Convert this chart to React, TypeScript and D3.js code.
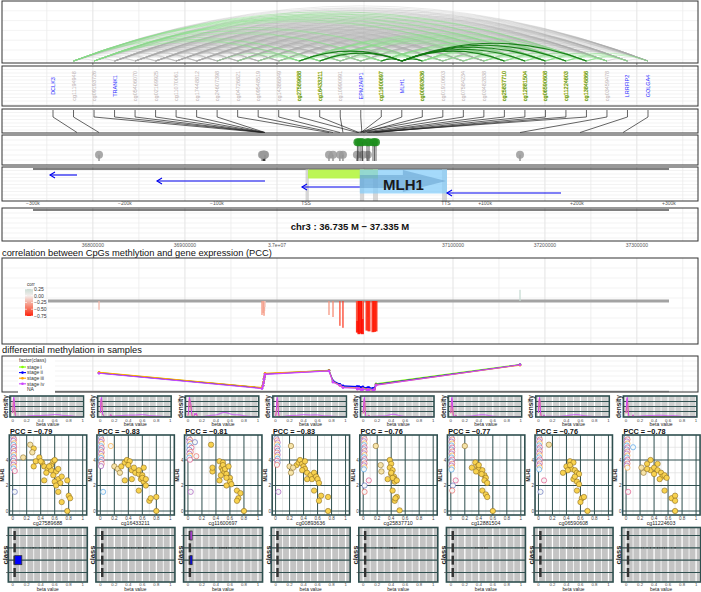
import React from 'react';
import * as d3 from 'd3';

const FONT = '"Liberation Sans", Arial, Helvetica, sans-serif';
const TEAL = '#2f4f4f';

// ---------------- label track (left to right) ----------------
const nodeLabels = ['DCLK3', 'cg11194948', 'cg09193726', 'TRANK1', 'cg05406070', 'cg02169925', 'cg11070061', 'cg17448812', 'cg24607398', 'cg04726821', 'cg09548519', 'cg14386849', 'cg27589688', 'cg16433211', 'cg10990991', 'EPM2AIP1', 'cg11600697', 'MLH1', 'cg00893636', 'cg01910603', 'cg07584234', 'cg03482838', 'cg25837710', 'cg12881504', 'cg06590608', 'cg11224603', 'cg13846866', 'cg03459478', 'LRRFIP2', 'GOLGA4'];

const geneLabelNames = ['DCLK3', 'TRANK1', 'EPM2AIP1', 'MLH1', 'LRRFIP2', 'GOLGA4'];
const geneLabelAnchor = [36782800, 36987000, 37049450, 37049000, 37238200, 37285000];

// ---------------- CpG probes ----------------
const cpgNames = ['cg11194948', 'cg09193726', 'cg05406070', 'cg02169925', 'cg11070061', 'cg17448812', 'cg24607398', 'cg04726821', 'cg09548519', 'cg14386849', 'cg27589688', 'cg16433211', 'cg10990991', 'cg11600697', 'cg00893636', 'cg01910603', 'cg07584234', 'cg03482838', 'cg25837710', 'cg12881504', 'cg06590608', 'cg11224603', 'cg13846866', 'cg03459478'];
const cpgPos = [36806700, 36983700, 36984800, 36985400, 36985900, 36986400, 36987000, 37040850, 37041900, 37043700, 37048280, 37048670, 37044500, 37049200, 37049590, 37048150, 37049700, 37052000, 37052580, 37055420, 37056190, 37054640, 37051550, 37172900];
const cpgPCC = [-0.22, -0.35, -0.3, -0.2, -0.37, -0.25, -0.15, -0.35, -0.4, -0.62, -0.79, -0.83, -0.67, -0.81, -0.83, -0.5, -0.45, -0.4, -0.76, -0.77, -0.76, -0.78, -0.74, 0.28];
const cpgSig = [0, 0, 0, 0, 0, 0, 0, 0, 0, 0, 1, 1, 0, 1, 1, 0, 0, 0, 1, 1, 1, 1, 1, 0];
const cpgLogP = [2.2, 2.2, 2.2, 2.2, 2.2, 2.2, 2.2, 2.2, 2.2, 2.2, 5.6, 5.6, 2.2, 5.6, 5.6, 2.2, 2.2, 2.2, 5.6, 5.6, 5.6, 5.6, 5.6, 2.2];

// mean beta per stage
const stageNames = ['stage i', 'stage ii', 'stage iii', 'stage iv'];
const stageColors = ['#7fff00', '#0000ff', '#ffa500', '#cc44ff'];
const betaStage1 = [0.54, 0.09, 0.16, 0.25, 0.35, 0.42, 0.51, 0.61, 0.28, 0.18, 0.09, 0.11, 0.13, 0.08, 0.06, 0.11, 0.1, 0.07, 0.07, 0.07, 0.21, 0.05, 0.06, 0.78];
const betaStage2 = [0.53, 0.09, 0.16, 0.25, 0.35, 0.42, 0.5, 0.6, 0.3, 0.2, 0.12, 0.13, 0.15, 0.11, 0.09, 0.13, 0.12, 0.1, 0.1, 0.09, 0.19, 0.08, 0.09, 0.77];
const betaStage3 = [0.55, 0.1, 0.17, 0.26, 0.36, 0.43, 0.52, 0.6, 0.27, 0.17, 0.06, 0.08, 0.11, 0.05, 0.04, 0.09, 0.07, 0.05, 0.04, 0.05, 0.18, 0.03, 0.04, 0.76];
const betaStage4 = [0.52, 0.07, 0.15, 0.24, 0.34, 0.41, 0.49, 0.59, 0.26, 0.16, 0.05, 0.07, 0.1, 0.04, 0.03, 0.08, 0.06, 0.04, 0.04, 0.04, 0.17, 0.03, 0.03, 0.77];

// ---------------- gene track ----------------
const trackGenes = ['DCLK3', 'TRANK1', 'EPM2AIP1', 'LRRFIP2'];
const trackStart = [36753460, 36869660, 37030000, 37093430];
const trackEnd = [36782800, 36986950, 37048900, 37217500];
const trackLane = [0, 1, 2, 3];
const mlh1Start = 37048900;
const mlh1End = 37093430;
const promoterStart = 37035360;
const promoterEnd = 37057220;
const bandStart = [37034300, 37048930, 37054640, 37090270];
const bandEnd = [37035600, 37050000, 37057220, 37093430];
const TSS = 37034841;
const TTS = 37092337;
const tssOffsets = [-300000, -200000, -100000, 0, 100000, 200000, 300000];
const tssOffsetLabels = ['\u2212300k', '\u2212200k', '\u2212100k', 'TSS', '+100k', '+200k', '+300k'];
const chrTicks = [36800000, 36900000, 37000000, 37100000, 37200000, 37300000];
const chrTickLabels = ['36800000', '36900000', '3.7e+07', '37100000', '37200000', '37300000'];
const gridMajor = [36800000, 36900000, 37000000, 37100000, 37200000, 37300000];
const gridMinor = [36750000, 36850000, 36950000, 37050000, 37150000, 37250000, 37350000];

// ---------------- per-probe sample panels ----------------
const panelCpgs = ['cg27589688', 'cg16433211', 'cg11600697', 'cg00893636', 'cg25837710', 'cg12881504', 'cg06590608', 'cg11224603'];
const panelPCC = ['\u22120.79', '\u22120.83', '\u22120.81', '\u22120.83', '\u22120.76', '\u22120.77', '\u22120.76', '\u22120.78'];

const scatterTumor: number[][][] = [
  [[0.25, 5.2], [0.3, 4.9], [0.28, 4.6], [0.15, 4.2], [0.38, 4.2], [0.33, 3.9], [0.42, 3.8], [0.3, 3.5], [0.45, 3.5], [0.5, 3.3], [0.55, 3.6], [0.58, 3.9], [0.6, 4.0], [0.55, 3.2], [0.48, 3.0], [0.62, 3.1], [0.58, 2.8], [0.65, 2.5], [0.6, 2.3], [0.68, 2.2], [0.45, 2.4], [0.7, 2.7], [0.62, 2.0], [0.65, 1.5], [0.78, 2.4], [0.7, 0.7], [0.8, 1.2], [0.82, 1.0], [0.78, 0.0], [0.65, 3.3], [0.52, 3.5], [0.4, 3.9]],
  [[0.2, 3.5], [0.25, 3.3], [0.3, 3.5], [0.35, 3.8], [0.38, 4.0], [0.42, 3.9], [0.28, 3.0], [0.45, 3.2], [0.5, 3.0], [0.35, 2.4], [0.55, 2.9], [0.6, 2.8], [0.62, 3.4], [0.58, 2.5], [0.62, 2.3], [0.65, 2.0], [0.55, 1.6], [0.7, 0.8], [0.72, 1.0], [0.8, 1.1], [0.8, 0.0], [0.45, 2.5], [0.6, 2.6], [0.55, 3.2], [0.65, 2.5], [0.48, 3.4], [0.4, 3.6]],
  [[0.33, 5.2], [0.35, 3.1], [0.35, 3.4], [0.45, 3.9], [0.5, 3.8], [0.48, 3.4], [0.5, 3.2], [0.52, 3.0], [0.55, 2.9], [0.45, 2.4], [0.6, 2.6], [0.6, 2.3], [0.62, 2.1], [0.55, 2.0], [0.5, 3.6], [0.53, 3.3], [0.7, 1.6], [0.75, 1.4], [0.72, 1.0], [0.7, 0.8], [0.8, 0.0], [0.58, 3.5], [0.47, 2.8], [0.55, 2.6]],
  [[0.22, 5.1], [0.2, 3.5], [0.22, 3.0], [0.3, 3.6], [0.33, 3.8], [0.35, 4.0], [0.38, 3.7], [0.4, 3.5], [0.42, 3.3], [0.45, 3.0], [0.5, 2.8], [0.52, 2.5], [0.55, 3.0], [0.58, 2.7], [0.6, 2.5], [0.62, 2.2], [0.55, 1.6], [0.65, 1.2], [0.62, 0.8], [0.75, 1.1], [0.75, 0.0], [0.45, 2.5], [0.38, 3.2], [0.25, 3.4], [0.42, 3.9]],
  [[0.18, 5.1], [0.25, 3.6], [0.26, 3.1], [0.38, 4.0], [0.4, 3.7], [0.38, 3.4], [0.42, 3.2], [0.4, 2.9], [0.44, 2.7], [0.45, 2.5], [0.45, 2.3], [0.42, 2.6], [0.48, 2.4], [0.42, 1.6], [0.48, 1.1], [0.45, 0.8], [0.52, 0.05], [0.35, 2.5], [0.4, 3.0], [0.46, 1.0]],
  [[0.2, 5.1], [0.3, 3.4], [0.35, 3.8], [0.38, 3.5], [0.4, 3.3], [0.42, 3.0], [0.45, 3.2], [0.48, 2.8], [0.5, 2.6], [0.48, 2.4], [0.52, 2.2], [0.45, 1.6], [0.5, 1.3], [0.52, 1.1], [0.6, 0.0], [0.4, 3.6], [0.44, 2.9], [0.36, 3.1]],
  [[0.15, 5.2], [0.35, 3.0], [0.4, 3.5], [0.45, 3.9], [0.5, 3.8], [0.47, 3.3], [0.52, 3.2], [0.55, 3.0], [0.58, 2.9], [0.5, 2.5], [0.55, 2.3], [0.58, 2.1], [0.55, 1.6], [0.62, 1.0], [0.65, 1.1], [0.6, 0.7], [0.7, 0.0], [0.45, 3.6], [0.52, 2.7], [0.42, 3.2]],
  [[0.22, 3.4], [0.25, 3.0], [0.3, 3.7], [0.35, 4.0], [0.35, 3.2], [0.4, 3.4], [0.45, 3.2], [0.5, 3.0], [0.52, 2.7], [0.48, 2.5], [0.55, 2.8], [0.58, 2.6], [0.55, 1.6], [0.65, 1.0], [0.7, 1.2], [0.7, 0.8], [0.7, 0.0], [0.4, 2.9], [0.3, 3.3], [0.45, 3.7]],
];
const scatterNormal: number[][][] = [
  [[0.01, 5.78], [0.02, 5.62], [0.01, 5.5], [0.02, 5.31], [0.01, 5.18], [0.02, 5.02], [0.01, 4.86], [0.02, 4.71], [0.01, 4.57], [0.02, 4.39], [0.01, 4.24], [0.02, 4.12], [0.01, 3.93], [0.02, 3.79], [0.01, 3.62], [0.02, 3.48], [0.01, 3.33], [0.03, 3.14], [0.03, 1.5]],
  [[0.01, 5.72], [0.02, 5.55], [0.01, 5.41], [0.02, 5.26], [0.01, 5.08], [0.02, 4.93], [0.01, 4.78], [0.02, 4.61], [0.01, 4.47], [0.02, 4.3], [0.01, 4.16], [0.02, 3.99], [0.01, 3.85], [0.02, 3.7], [0.01, 3.52], [0.15, 5.1], [0.04, 1.5]],
  [[0.01, 5.72], [0.03, 5.58], [0.02, 5.41], [0.04, 5.27], [0.02, 5.1], [0.05, 4.96], [0.02, 4.8], [0.04, 4.63], [0.02, 4.49], [0.03, 4.33], [0.02, 4.18], [0.03, 4.02], [0.1, 5.4], [0.12, 4.3], [0.04, 1.5]],
  [[0.01, 5.7], [0.02, 5.54], [0.03, 5.37], [0.02, 5.22], [0.03, 5.06], [0.02, 4.9], [0.03, 4.73], [0.02, 4.58], [0.03, 4.41], [0.02, 4.27], [0.03, 4.1], [0.02, 3.94], [0.03, 3.79], [0.02, 3.62], [0.04, 1.5]],
  [[0.01, 5.78], [0.02, 5.63], [0.01, 5.47], [0.02, 5.3], [0.01, 5.16], [0.02, 4.99], [0.01, 4.84], [0.02, 4.69], [0.01, 4.52], [0.02, 4.38], [0.01, 4.21], [0.02, 4.06], [0.01, 3.9], [0.02, 3.74], [0.01, 3.58], [0.02, 3.42], [0.01, 3.27], [0.08, 2.4], [0.02, 2.0], [0.02, 1.5]],
  [[0.01, 5.76], [0.02, 5.61], [0.01, 5.44], [0.02, 5.29], [0.01, 5.13], [0.02, 4.97], [0.01, 4.82], [0.02, 4.66], [0.01, 4.5], [0.02, 4.35], [0.01, 4.19], [0.02, 4.03], [0.01, 3.88], [0.02, 3.71], [0.01, 3.56], [0.02, 3.4], [0.01, 3.25], [0.07, 2.4], [0.03, 2.0], [0.02, 1.6]],
  [[0.01, 5.77], [0.02, 5.6], [0.01, 5.46], [0.02, 5.3], [0.01, 5.14], [0.02, 4.98], [0.01, 4.83], [0.02, 4.67], [0.01, 4.51], [0.02, 4.36], [0.01, 4.2], [0.02, 4.04], [0.01, 3.89], [0.02, 3.73], [0.01, 3.57], [0.02, 3.41], [0.01, 3.26], [0.08, 2.4], [0.03, 1.5]],
  [[0.01, 5.77], [0.02, 5.61], [0.01, 5.45], [0.02, 5.29], [0.01, 5.13], [0.02, 4.98], [0.01, 4.82], [0.02, 4.66], [0.01, 4.5], [0.02, 4.35], [0.01, 4.19], [0.02, 4.03], [0.01, 3.88], [0.02, 3.72], [0.01, 3.56], [0.02, 3.4], [0.1, 5.0], [0.03, 1.5]],
];

// class boxes (default dark box in every row, a few coloured ones)
const classRows = [0, 1, 2, 3];
const classBoxLo = 0.01;
const classBoxHi = 0.045;
const hlPanel = [0, 2, 2];
const hlRow = [2, 0, 2];
const hlLo = [0.03, 0.03, 0.03];
const hlHi = [0.13, 0.06, 0.06];
const hlColor = ['#0000ff', '#cc44ff', '#0000ff'];

const betaTicks = [0, 0.2, 0.4, 0.6, 0.8, 1];
const betaMinor = [0.1, 0.3, 0.5, 0.7, 0.9];
const pccLegendValues = [0.25, 0, -0.25, -0.5, -0.75];
const pccLegendLabels = ['0.25', '0.00', '\u22120.25', '\u22120.50', '\u22120.75'];

// ---------------- helpers ----------------
const gx = d3.scaleLinear()
  .domain([36735000, 37000000, 37034841, 37050000, 37092337, 37100000, 37335000])
  .range([33, 277, 306, 364, 446, 453, 669]);

const X0 = 2;
const X1 = 698;

function GenomePanel({ y0, y1, step }: { y0: number; y1: number; step: number }) {
  const hs = d3.range(y0 + step, y1 - 0.5, step);
  return (
    <g>
      <rect x={X0} y={y0} width={X1 - X0} height={y1 - y0} fill="#fff" />
      {hs.map((y, i) => <line key={'h' + i} x1={X0} x2={X1} y1={y} y2={y} stroke="#ebebeb" strokeWidth={0.6} />)}
      {gridMinor.map((g, i) => <line key={'m' + i} x1={gx(g)} x2={gx(g)} y1={y0} y2={y1} stroke="#ebebeb" strokeWidth={0.8} />)}
      {gridMajor.map((g, i) => <line key={'M' + i} x1={gx(g)} x2={gx(g)} y1={y0} y2={y1} stroke="#e6e6e6" strokeWidth={1.1} />)}
    </g>
  );
}

function Border({ y0, y1 }: { y0: number; y1: number }) {
  return <rect x={X0} y={y0} width={X1 - X0} height={y1 - y0} fill="none" stroke="#333" strokeWidth={1} />;
}

const gauss = (u: number) => Math.exp(-0.5 * u * u) / Math.sqrt(2 * Math.PI);
const evalGrid = d3.range(0, 1.0001, 0.004);
function kde(vals: number[], bw: number) {
  return evalGrid.map((x) => [x, (d3.mean(vals, (v) => gauss((x - v) / bw)) as number) / bw]);
}

const normalStrokes = ['#3949ab', '#e53935', '#8e24aa', '#fb8c00', '#1e88e5', '#d81b60'];

export default function App() {
  const nx = d3.scalePoint<string>().domain(nodeLabels).range([53, 648]);
  const kindOf = (n: string) =>
    geneLabelNames.includes(n) ? 'gene' : cpgSig[cpgNames.indexOf(n)] ? 'sig' : 'cpg';
  const anchorOf = (n: string) =>
    geneLabelNames.includes(n) ? geneLabelAnchor[geneLabelNames.indexOf(n)] : cpgPos[cpgNames.indexOf(n)];

  // ---- arcs between track nodes ----
  const arcBase = 61;
  const arcNodes = nodeLabels.slice(1);
  const arcs: { d: string; kind: string }[] = [];
  for (let i = 0; i < arcNodes.length; i++) {
    for (let j = i + 1; j < arcNodes.length; j++) {
      const a = arcNodes[i];
      const b = arcNodes[j];
      const ka = kindOf(a);
      const kb = kindOf(b);
      let kind = 'gray';
      if ((a === 'MLH1' && kb === 'sig') || (b === 'MLH1' && ka === 'sig')) kind = 'dark';
      else if (ka === 'sig' && kb === 'sig') kind = 'light';
      else if ((ka === 'sig' || kb === 'sig') && j - i <= 4) kind = 'light';
      else if (i <= 1 && kb === 'sig') kind = 'light';
      const x1 = nx(a) as number;
      const x2 = nx(b) as number;
      const h = (x2 - x1) * 0.096;
      arcs.push({ d: `M${x1},${arcBase} Q${(x1 + x2) / 2},${arcBase - 2 * h} ${x2},${arcBase}`, kind });
    }
  }
  const arcStyle: Record<string, [string, number, number]> = {
    gray: ['#a8a8a8', 0.35, 0.7],
    light: ['#86dc86', 0.6, 0.8],
    dark: ['#127a12', 0.95, 1.1],
  };

  // ---- lollipops ----
  const ly = d3.scaleLinear().domain([0, 7]).range([163, 137]);

  // ---- PCC ----
  const py = d3.scaleLinear().domain([-1.05, 1.05]).range([343, 259]);
  const pccColor = d3.scaleLinear<string>().domain([-0.8, -0.4, 0, 0.3]).range(['#ff1500', '#f58870', '#f4eeec', '#c2d9cf']);
  const legY = d3.scaleLinear().domain([0.25, -0.75]).range([289, 316]);

  // ---- differential methylation ----
  const dy = d3.scaleLinear().domain([0, 1]).range([391, 357]);
  const order = d3.range(cpgNames.length).sort((a, b) => cpgPos[a] - cpgPos[b]);
  const stageBetas = [betaStage1, betaStage2, betaStage3, betaStage4];
  const diffLine = d3.line<number>().x((i) => gx(cpgPos[i])).y(() => 0);

  // ---- columns ----
  const colX = d3.scaleLinear().domain([0, 8]).range([0, 701]);
  const sy = d3.scaleLinear().domain([0, 4]).range([511, 460]);
  const classY = d3.scalePoint<number>().domain(classRows).range([535.5, 572.5]);

  return (
    <svg width={701} height={592} style={{ position: 'absolute', left: 0, top: 0, background: '#fff' }} fontFamily={FONT}>
      {/* ============ arc panel ============ */}
      <GenomePanel y0={1} y1={63} step={9.8} />
      {['gray', 'light', 'dark'].map((k) =>
        arcs.filter((a) => a.kind === k).map((a, i) => (
          <path key={k + i} d={a.d} fill="none" stroke={arcStyle[k][0]} strokeOpacity={arcStyle[k][1]} strokeWidth={arcStyle[k][2]} />
        ))
      )}
      <Border y0={1} y1={63} />
      {gridMajor.map((g, i) => <line key={'at' + i} x1={gx(g)} x2={gx(g)} y1={63} y2={65} stroke="#333" strokeWidth={0.6} />)}

      {/* ============ labels ============ */}
      <GenomePanel y0={66} y1={106} step={3.5} />
      {nodeLabels.map((n) => {
        const k = kindOf(n);
        const fill = k === 'gene' ? '#2b2bff' : k === 'sig' ? '#2e8b2e' : '#bcb2b2';
        return (
          <text key={n} transform={`translate(${nx(n)},86) rotate(-90)`} textAnchor="middle" dominantBaseline="central"
            fontSize={5.5} fill={fill} stroke={k === 'sig' ? '#e8d43c' : 'none'} strokeWidth={0.35} paintOrder="stroke">
            {n}
          </text>
        );
      })}
      <Border y0={66} y1={106} />

      {/* ============ connectors ============ */}
      <GenomePanel y0={109} y1={133} step={3.5} />
      {nodeLabels.map((n) => {
        const x = nx(n) as number;
        return <polyline key={'c' + n} points={`${x},110 ${x},117 ${gx(anchorOf(n))},132.5`} fill="none" stroke="#222" strokeWidth={0.7} />;
      })}
      <Border y0={109} y1={133} />

      {/* ============ lollipops ============ */}
      <GenomePanel y0={135} y1={165} step={5} />
      {d3.range(cpgNames.length).sort((a, b) => cpgSig[a] - cpgSig[b]).map((i) => (
        <g key={'l' + i}>
          <line x1={gx(cpgPos[i])} x2={gx(cpgPos[i])} y1={ly(cpgLogP[i])} y2={161} stroke="#222" strokeWidth={0.7} />
          <circle cx={gx(cpgPos[i])} cy={ly(cpgLogP[i])} r={4} fill={cpgSig[i] ? '#1f8f1f' : '#9a9a9a'} fillOpacity={0.85} />
        </g>
      ))}
      <Border y0={135} y1={165} />

      {/* ============ gene track ============ */}
      <GenomePanel y0={167} y1={201} step={3.5} />
      <line x1={gx(36735000)} x2={gx(37335000)} y1={169} y2={169} stroke="#000" strokeWidth={1.2} />
      {bandStart.map((s, i) => (
        <rect key={'b' + i} x={gx(s)} y={169} width={gx(bandEnd[i]) - gx(s)} height={32} fill="#bdbdbd" fillOpacity={0.6} />
      ))}
      <rect x={gx(promoterStart)} y={169.5} width={gx(promoterEnd) - gx(promoterStart)} height={9} fill="#b5f542" fillOpacity={0.9} />
      <rect x={gx(mlh1Start)} y={169.5} width={gx(mlh1End) - gx(mlh1Start)} height={24} fill="#87cefa" fillOpacity={0.75} />
      {(() => {
        const a = gx(mlh1Start);
        const b = gx(mlh1End) - 1;
        const m = (a + b) / 2;
        return (
          <polygon points={`${a},175 ${m},175 ${m},170 ${b},181 ${m},192 ${m},188 ${a},188`} fill="#4682b4" fillOpacity={0.35} />
        );
      })()}
      <text x={(gx(mlh1Start) + gx(mlh1End)) / 2} y={190} textAnchor="middle" fontSize={15} fontWeight="bold" fill="#1a1a1a">MLH1</text>
      {trackGenes.map((g, i) => {
        const laneY = d3.scaleLinear().domain([0, 3]).range([175, 193])(trackLane[i]);
        const xs = gx(trackStart[i]);
        const xe = gx(trackEnd[i]);
        return (
          <g key={'g' + g} stroke="#0000ee" strokeWidth={1.1} fill="none">
            <line x1={xs} x2={xe} y1={laneY} y2={laneY} />
            <polyline points={`${xs + 5},${laneY - 3} ${xs},${laneY} ${xs + 5},${laneY + 3}`} />
          </g>
        );
      })}
      <Border y0={167} y1={201} />
      {tssOffsets.map((o, i) => (
        <text key={'t' + i} x={gx(TSS + o)} y={205} textAnchor="middle" fontSize={5} fill="#555">{tssOffsetLabels[i]}</text>
      ))}
      <text x={gx(TTS)} y={205} textAnchor="middle" fontSize={5} fill="#555">TTS</text>

      {/* ============ chromosome axis ============ */}
      <GenomePanel y0={208} y1={241} step={5} />
      <line x1={gx(36735000)} x2={gx(37335000)} y1={210} y2={210} stroke="#000" strokeWidth={1.2} />
      <text x={350} y={230} textAnchor="middle" fontSize={9.5} fontWeight="bold" fill="#111">chr3 : 36.735 M {'\u2212'} 37.335 M</text>
      <Border y0={208} y1={241} />
      {chrTicks.map((t, i) => (
        <text key={'ct' + i} x={gx(t)} y={247} textAnchor="middle" fontSize={5} fill="#555">{chrTickLabels[i]}</text>
      ))}

      {/* ============ PCC panel ============ */}
      <text x={2} y={256} fontSize={9.3} fill="#111">correlation between CpGs methlytion and gene expression (PCC)</text>
      <GenomePanel y0={258} y1={344} step={10} />
      <line x1={48} x2={gx(37335000)} y1={py(0)} y2={py(0)} stroke="#a3a3a3" strokeWidth={3} />
      {d3.range(cpgNames.length).map((i) => {
        const v = cpgPCC[i];
        const w = cpgSig[i] ? 3 : 1.4;
        return (
          <rect key={'p' + i} x={gx(cpgPos[i]) - w / 2} y={Math.min(py(0), py(v))} width={w} height={Math.abs(py(v) - py(0))}
            fill={pccColor(v)} fillOpacity={0.9} />
        );
      })}
      <text x={27} y={286} fontSize={4.5} fill="#333">corr</text>
      <defs>
        <linearGradient id="pccGrad" x1="0" y1="0" x2="0" y2="1">
          {pccLegendValues.map((v, i) => (
            <stop key={i} offset={`${(i / (pccLegendValues.length - 1)) * 100}%`} stopColor={pccColor(v)} />
          ))}
        </linearGradient>
      </defs>
      <rect x={25} y={legY(0.25)} width={8} height={legY(-0.75) - legY(0.25)} fill="url(#pccGrad)" />
      {pccLegendValues.map((v, i) => (
        <g key={'lg' + i}>
          <line x1={25} x2={27} y1={legY(v)} y2={legY(v)} stroke="#fff" strokeWidth={0.6} />
          <line x1={31} x2={33} y1={legY(v)} y2={legY(v)} stroke="#fff" strokeWidth={0.6} />
          <text x={34} y={legY(v) + 1.8} fontSize={5} fill="#333">{pccLegendLabels[i]}</text>
        </g>
      ))}
      <Border y0={258} y1={344} />

      {/* ============ differential methylation ============ */}
      <text x={2} y={353} fontSize={9.3} fill="#111">differential methylation in samples</text>
      <GenomePanel y0={356} y1={392} step={5} />
      <line x1={48} x2={gx(37335000)} y1={391.5} y2={391.5} stroke="#a3a3a3" strokeWidth={1.5} />
      {stageBetas.map((b, s) => (
        <g key={'st' + s}>
          <path d={diffLine.y((i) => dy(b[i]))(order) as string} fill="none" stroke={stageColors[s]} strokeWidth={1.1} />
          {order.map((i) => <circle key={i} cx={gx(cpgPos[i])} cy={dy(b[i])} r={1.3} fill={stageColors[s]} />)}
        </g>
      ))}
      <Border y0={356} y1={392} />
      <rect x={18} y={357} width={37} height={36} fill="#fff" />
      <text x={19} y={362} fontSize={5} fill="#333">factor(class)</text>
      {stageNames.map((s, i) => {
        const y = 367 + i * 5.6;
        return (
          <g key={'leg' + s}>
            <line x1={19} x2={26} y1={y} y2={y} stroke={stageColors[i]} strokeWidth={1.1} />
            <circle cx={22.5} cy={y} r={1.3} fill={stageColors[i]} />
            <text x={27} y={y + 1.8} fontSize={5} fill="#333">{s}</text>
          </g>
        );
      })}
      <text x={27} y={367 + 4 * 5.6 + 1.8} fontSize={5} fill="#333">NA</text>

      {/* ============ per-probe columns ============ */}
      {panelCpgs.map((name, p) => {
        const cx = colX(p);
        const bx = d3.scaleLinear().domain([0, 1]).range([cx + 12.7, cx + 82.7]);
        const tum = scatterTumor[p];
        const nor = scatterNormal[p];
        const nAll = tum.length + nor.length;
        // spike of the normal samples plus the flat spread of the tumours
        const norDens = kde(nor.map((d) => d[0]), 0.006);
        const tumDens = kde(tum.map((d) => d[0]), 0.05);
        const dens = evalGrid.map((x, k) => [x, (norDens[k][1] * nor.length + tumDens[k][1] * tum.length) / nAll]);
        const dmax = d3.max(dens, (d) => d[1]) as number;
        const dyy = d3.scaleLinear().domain([0, dmax * 1.02]).range([416.5, 397]);
        const densLine = d3.line<number[]>().x((d) => bx(d[0])).y((d) => dyy(d[1]));
        const norOnly = norDens.map((d) => [d[0], (d[1] * nor.length * 0.92) / nAll]);
        return (
          <g key={name}>
            {/* density */}
            <rect x={cx + 10} y={396} width={73.5} height={21} fill="#cfcfcf" />
            {betaMinor.map((v) => <line key={'dm' + v} x1={bx(v)} x2={bx(v)} y1={396} y2={417} stroke="#fff" strokeWidth={0.8} />)}
            {betaTicks.map((v) => <line key={'dM' + v} x1={bx(v)} x2={bx(v)} y1={396} y2={417} stroke="#fff" strokeWidth={1.2} />)}
            {[401.5, 406.5, 411.5].map((y) => <line key={'dh' + y} x1={cx + 10} x2={cx + 83.5} y1={y} y2={y} stroke={TEAL} strokeWidth={1} />)}
            <path d={densLine(norOnly) as string} fill="none" stroke="#ffa500" strokeWidth={1} />
            <path d={densLine(dens) as string} fill="none" stroke="#cc44ff" strokeWidth={1} />
            <rect x={cx + 10} y={396} width={73.5} height={21} fill="none" stroke={TEAL} strokeWidth={1.6} />
            <text transform={`translate(${cx + 7.5},406.5) rotate(-90)`} textAnchor="middle" fontSize={6.5} fontWeight="bold" fill="#222">density</text>
            {betaTicks.map((v) => <text key={'dt' + v} x={bx(v)} y={421.6} textAnchor="middle" fontSize={4.4} fill="#444">{String(v)}</text>)}
            <text x={bx(0.5)} y={426.4} textAnchor="middle" fontSize={5} fill="#222">beta value</text>

            {/* scatter */}
            <text x={cx + 10} y={433.8} fontSize={7.3} fontWeight="bold" fill="#111">PCC = {panelPCC[p]}</text>
            <rect x={cx + 9.3} y={435} width={77.4} height={80} fill="#fff" />
            {betaMinor.map((v) => <line key={'sm' + v} x1={bx(v)} x2={bx(v)} y1={435} y2={515} stroke="#e3e3e3" strokeWidth={0.8} />)}
            {[1, 3, 5].map((v) => <line key={'smy' + v} x1={cx + 9.3} x2={cx + 86.7} y1={sy(v)} y2={sy(v)} stroke="#e3e3e3" strokeWidth={0.8} />)}
            {betaTicks.map((v) => <line key={'sM' + v} x1={bx(v)} x2={bx(v)} y1={435} y2={515} stroke={TEAL} strokeWidth={1} />)}
            {[0, 2, 4].map((v) => <line key={'sMy' + v} x1={cx + 9.3} x2={cx + 86.7} y1={sy(v)} y2={sy(v)} stroke={TEAL} strokeWidth={1} />)}
            {nor.map((d, i) => (
              <circle key={'n' + i} cx={bx(d[0])} cy={sy(d[1])} r={2.6} fill="#f4f7f6" stroke={normalStrokes[i % normalStrokes.length]} strokeWidth={0.5} />
            ))}
            {tum.map((d, i) => (
              <circle key={'t' + i} cx={bx(d[0])} cy={sy(d[1])} r={2.7} fill={d[0] < 0.3 ? '#f6e3a8' : '#f8d24f'} stroke="#7a5a14" strokeWidth={0.5} />
            ))}
            <rect x={cx + 9.3} y={435} width={77.4} height={80} fill="none" stroke={TEAL} strokeWidth={1.6} />
            {[0, 2, 4].map((v) => <text key={'syt' + v} x={cx + 8.3} y={sy(v) + 1.7} textAnchor="end" fontSize={4.6} fill="#444">{v}</text>)}
            <text transform={`translate(${cx + 4},475) rotate(-90)`} textAnchor="middle" fontSize={4.8} fontWeight="bold" fill="#222">MLH1</text>
            {betaTicks.map((v) => <text key={'st' + v} x={bx(v)} y={520.3} textAnchor="middle" fontSize={4.6} fill="#444">{String(v)}</text>)}
            <text x={bx(0.5)} y={525} textAnchor="middle" fontSize={5.3} fill="#222">{name}</text>

            {/* class */}
            <rect x={cx + 8.3} y={527.5} width={79} height={54.5} fill="#c4c4c4" />
            {betaMinor.map((v) => <line key={'cm' + v} x1={bx(v)} x2={bx(v)} y1={527.5} y2={582} stroke="#fff" strokeWidth={0.8} />)}
            {betaTicks.map((v) => <line key={'cM' + v} x1={bx(v)} x2={bx(v)} y1={527.5} y2={582} stroke="#fff" strokeWidth={1.3} />)}
            {classRows.map((r) => (
              <line key={'cr' + r} x1={cx + 8.3} x2={cx + 87.3} y1={classY(r)} y2={classY(r)} stroke={TEAL} strokeWidth={1.2} />
            ))}
            {classRows.map((r) => (
              <rect key={'cb' + r} x={bx(classBoxLo)} y={(classY(r) as number) - 4.5} width={bx(classBoxHi) - bx(classBoxLo)} height={9} fill="#333" />
            ))}
            {hlPanel.map((hp, k) => hp === p ? (
              <rect key={'hl' + k} x={bx(hlLo[k])} y={(classY(hlRow[k]) as number) - 4.5} width={bx(hlHi[k]) - bx(hlLo[k])} height={9}
                fill={hlColor[k]} stroke="#333" strokeWidth={0.8} />
            ) : null)}
            {tum.map((d, i) => (
              <rect key={'cd' + i} x={bx(d[0]) - 0.4} y={(classY(1) as number) - 0.4} width={0.8} height={0.8} fill="#333" />
            ))}
            <rect x={cx + 8.3} y={527.5} width={79} height={54.5} fill="none" stroke={TEAL} strokeWidth={1.6} />
            {classRows.map((r) => (
              <line key={'ck' + r} x1={cx + 6} x2={cx + 8.3} y1={classY(r)} y2={classY(r)} stroke="#333" strokeWidth={0.6} />
            ))}
            <text transform={`translate(${cx + 7.8},555) rotate(-90)`} textAnchor="middle" fontSize={7.5} fontWeight="bold" fill="#222">class</text>
            {betaTicks.map((v) => <text key={'ct' + v} x={bx(v)} y={586.4} textAnchor="middle" fontSize={4.3} fill="#444">{String(v)}</text>)}
            <text x={bx(0.5)} y={591.4} textAnchor="middle" fontSize={4.8} fill="#222">beta value</text>
          </g>
        );
      })}
    </svg>
  );
}
